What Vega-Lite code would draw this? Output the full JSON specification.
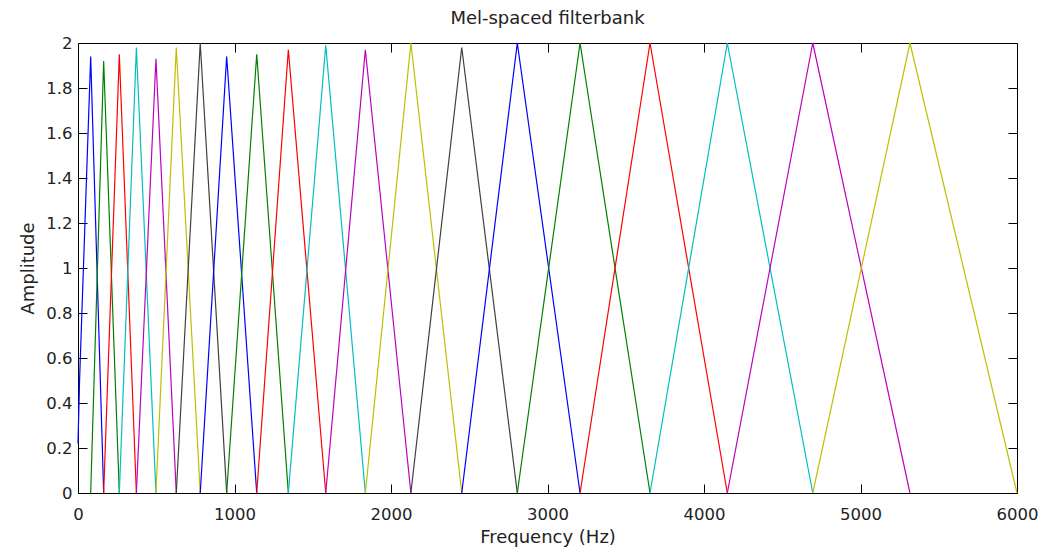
{
  "$schema": "https://vega.github.io/schema/vega-lite/v6.json",
  "width": 939,
  "height": 450,
  "autosize": {"type": "none"},
  "padding": {"left": 78, "top": 43, "right": 24, "bottom": 59},
  "background": "white",
  "title": {"text": "Mel-spaced filterbank", "font": "DejaVu Sans", "fontSize": 18, "fontWeight": "normal", "color": "#222222", "baseline": "alphabetic", "offset": -7, "frame": "group", "anchor": "middle"},
  "config": {
    "view": {"stroke": null},
    "axis": {
      "grid": false,
      "domainColor": "#000000",
      "domainWidth": 1,
      "tickColor": "#000000",
      "tickWidth": 1,
      "tickSize": -9,
      "labelFont": "DejaVu Sans",
      "labelFontSize": 16.5,
      "labelColor": "#222222",
      "titleFont": "DejaVu Sans",
      "titleFontSize": 18,
      "titleFontWeight": "normal",
      "titleColor": "#222222"
    }
  },
  "data": {
    "values": [
      {"filter": 1, "f": 0, "a": 0.22}, {"filter": 1, "f": 10, "a": 0.5}, {"filter": 1, "f": 81, "a": 1.94}, {"filter": 1, "f": 164, "a": 0},
      {"filter": 2, "f": 81, "a": 0}, {"filter": 2, "f": 164, "a": 1.92}, {"filter": 2, "f": 264, "a": 0},
      {"filter": 3, "f": 164, "a": 0}, {"filter": 3, "f": 264, "a": 1.95}, {"filter": 3, "f": 373, "a": 0},
      {"filter": 4, "f": 264, "a": 0}, {"filter": 4, "f": 373, "a": 1.98}, {"filter": 4, "f": 498, "a": 0},
      {"filter": 5, "f": 373, "a": 0}, {"filter": 5, "f": 498, "a": 1.93}, {"filter": 5, "f": 628, "a": 0},
      {"filter": 6, "f": 498, "a": 0}, {"filter": 6, "f": 628, "a": 1.98}, {"filter": 6, "f": 781, "a": 0},
      {"filter": 7, "f": 628, "a": 0}, {"filter": 7, "f": 781, "a": 2.0}, {"filter": 7, "f": 950, "a": 0},
      {"filter": 8, "f": 781, "a": 0}, {"filter": 8, "f": 950, "a": 1.94}, {"filter": 8, "f": 1142, "a": 0},
      {"filter": 9, "f": 950, "a": 0}, {"filter": 9, "f": 1142, "a": 1.95}, {"filter": 9, "f": 1344, "a": 0},
      {"filter": 10, "f": 1142, "a": 0}, {"filter": 10, "f": 1344, "a": 1.97}, {"filter": 10, "f": 1583, "a": 0},
      {"filter": 11, "f": 1344, "a": 0}, {"filter": 11, "f": 1583, "a": 1.99}, {"filter": 11, "f": 1836, "a": 0},
      {"filter": 12, "f": 1583, "a": 0}, {"filter": 12, "f": 1836, "a": 1.97}, {"filter": 12, "f": 2127, "a": 0},
      {"filter": 13, "f": 1836, "a": 0}, {"filter": 13, "f": 2127, "a": 2.0}, {"filter": 13, "f": 2452, "a": 0},
      {"filter": 14, "f": 2127, "a": 0}, {"filter": 14, "f": 2452, "a": 1.98}, {"filter": 14, "f": 2807, "a": 0},
      {"filter": 15, "f": 2452, "a": 0}, {"filter": 15, "f": 2807, "a": 2.0}, {"filter": 15, "f": 3208, "a": 0},
      {"filter": 16, "f": 2807, "a": 0}, {"filter": 16, "f": 3208, "a": 2.0}, {"filter": 16, "f": 3655, "a": 0},
      {"filter": 17, "f": 3208, "a": 0}, {"filter": 17, "f": 3655, "a": 2.0}, {"filter": 17, "f": 4149, "a": 0},
      {"filter": 18, "f": 3655, "a": 0}, {"filter": 18, "f": 4149, "a": 2.0}, {"filter": 18, "f": 4695, "a": 0},
      {"filter": 19, "f": 4149, "a": 0}, {"filter": 19, "f": 4695, "a": 2.0}, {"filter": 19, "f": 5316, "a": 0},
      {"filter": 20, "f": 4695, "a": 0}, {"filter": 20, "f": 5316, "a": 2.0}, {"filter": 20, "f": 6000, "a": 0}
    ]
  },
  "layer": [
    {
      "mark": {"type": "line", "strokeWidth": 1.2},
      "encoding": {
        "x": {
          "field": "f", "type": "quantitative",
          "scale": {"domain": [0, 6000], "nice": false, "zero": false},
          "axis": {"orient": "bottom", "values": [0, 1000, 2000, 3000, 4000, 5000, 6000], "format": "d", "title": "Frequency (Hz)", "labelBaseline": "alphabetic", "labelPadding": 35, "titleBaseline": "alphabetic", "titlePadding": 20, "labelFlush": false}
        },
        "y": {
          "field": "a", "type": "quantitative",
          "scale": {"domain": [0, 2], "nice": false},
          "axis": {"orient": "left", "values": [0, 0.2, 0.4, 0.6, 0.8, 1, 1.2, 1.4, 1.6, 1.8, 2], "format": ".1~f", "title": "Amplitude", "labelPadding": 15, "titlePadding": 8, "labelFlush": false}
        },
        "color": {
          "field": "filter", "type": "ordinal",
          "scale": {
            "domain": [1, 2, 3, 4, 5, 6, 7, 8, 9, 10, 11, 12, 13, 14, 15, 16, 17, 18, 19, 20],
            "range": ["#0000ff", "#008000", "#ff0000", "#00bfbf", "#bf00bf", "#bfbf00", "#404040",
                      "#0000ff", "#008000", "#ff0000", "#00bfbf", "#bf00bf", "#bfbf00", "#404040",
                      "#0000ff", "#008000", "#ff0000", "#00bfbf", "#bf00bf", "#bfbf00"]
          },
          "legend": null
        }
      }
    },
    {
      "mark": {"type": "line", "strokeOpacity": 0},
      "encoding": {
        "x": {
          "field": "f", "type": "quantitative",
          "scale": {"domain": [0, 6000], "nice": false, "zero": false},
          "axis": {"orient": "top", "values": [0, 1000, 2000, 3000, 4000, 5000, 6000], "labels": false, "title": null}
        },
        "y": {
          "field": "a", "type": "quantitative",
          "scale": {"domain": [0, 2], "nice": false},
          "axis": {"orient": "right", "values": [0, 0.2, 0.4, 0.6, 0.8, 1, 1.2, 1.4, 1.6, 1.8, 2], "labels": false, "title": null}
        },
        "detail": {"field": "filter", "type": "ordinal"}
      }
    }
  ],
  "resolve": {"axis": {"x": "independent", "y": "independent"}}
}
